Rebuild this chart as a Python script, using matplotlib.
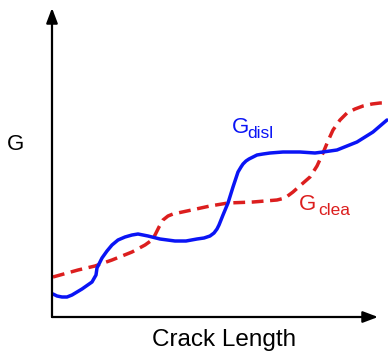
import matplotlib
matplotlib.use("Agg")
import matplotlib.pyplot as plt

plt.rcParams['font.family'] = ['Liberation Sans', 'DejaVu Sans']

# energy release rate curves vs crack length (arbitrary units)
crack_disl = [1, 5, 10, 15, 20, 30, 40, 44, 45, 50, 55, 60, 66, 73, 80, 86,
              96, 108, 123, 134, 145, 152, 158, 162, 165, 167, 171, 176,
              181, 186, 189, 191, 194, 197, 201, 205, 211, 218, 231, 248,
              263, 271, 285, 295, 305, 321, 335]
g_disl = [23, 21, 20, 20, 22, 28, 35, 42, 49, 59, 66, 72, 77, 80, 82, 83,
          81, 78, 76, 76, 78, 79, 81, 84, 88, 92, 102, 114,
          130, 145, 150, 153, 156, 158, 160, 162, 163, 164, 165, 165,
          164, 165, 167, 171, 175, 185, 197]

crack_clea = [1, 26, 43, 60, 80, 93, 100, 103, 107, 111, 116, 121, 135, 158,
              176, 201, 225, 233, 241, 250, 258, 265, 271, 276, 281, 288,
              295, 303, 311, 320, 328, 336]
g_clea = [40, 47, 51, 57, 65, 72, 77, 82, 90, 97, 101, 103, 106, 111,
          114, 115, 117, 119, 125, 133, 140, 151, 164, 176, 187, 197,
          204, 208, 211, 213, 214, 214]

BLUE = "#0a14f5"
RED = "#dc1e1e"

fig = plt.figure(figsize=(3.88, 3.51), dpi=100)
ax = fig.add_axes([52 / 388, 34 / 351, 336 / 388, 317 / 351])
ax.set_xlim(0, 336)
ax.set_ylim(0, 317)
ax.axis("off")

ax.plot(crack_disl, g_disl, color=BLUE, lw=2.5, solid_capstyle="round",
        solid_joinstyle="round", clip_on=False, zorder=3)
ax.plot(crack_clea, g_clea, color=RED, lw=2.5, linestyle=(0, (3.4, 1.9)),
        clip_on=False, zorder=2)

# axes drawn as arrows
arrow = dict(arrowstyle="-|>,head_length=0.45,head_width=0.17",
             mutation_scale=20, lw=1.6, color="black",
             shrinkA=0, shrinkB=0)
ax.annotate("", xy=(0, 309), xytext=(0, 0), arrowprops=arrow,
            annotation_clip=False)
ax.annotate("", xy=(326, 0), xytext=(0, 0), arrowprops=arrow,
            annotation_clip=False)

ax.text(-37, 172, "G", fontsize=16, ha="center", va="center", clip_on=False)
ax.text(172, -29, "Crack Length", fontsize=17.5, ha="center",
        va="baseline", clip_on=False)

ax.text(180, 184, "G", fontsize=16, color=BLUE, va="baseline")
ax.text(195, 179, "disl", fontsize=12.5, color=BLUE, va="baseline")
ax.text(247, 107, "G", fontsize=16, color=RED, va="baseline")
ax.text(266, 102, "clea", fontsize=12.5, color=RED, va="baseline")

fig.savefig("out.png", dpi=100)
